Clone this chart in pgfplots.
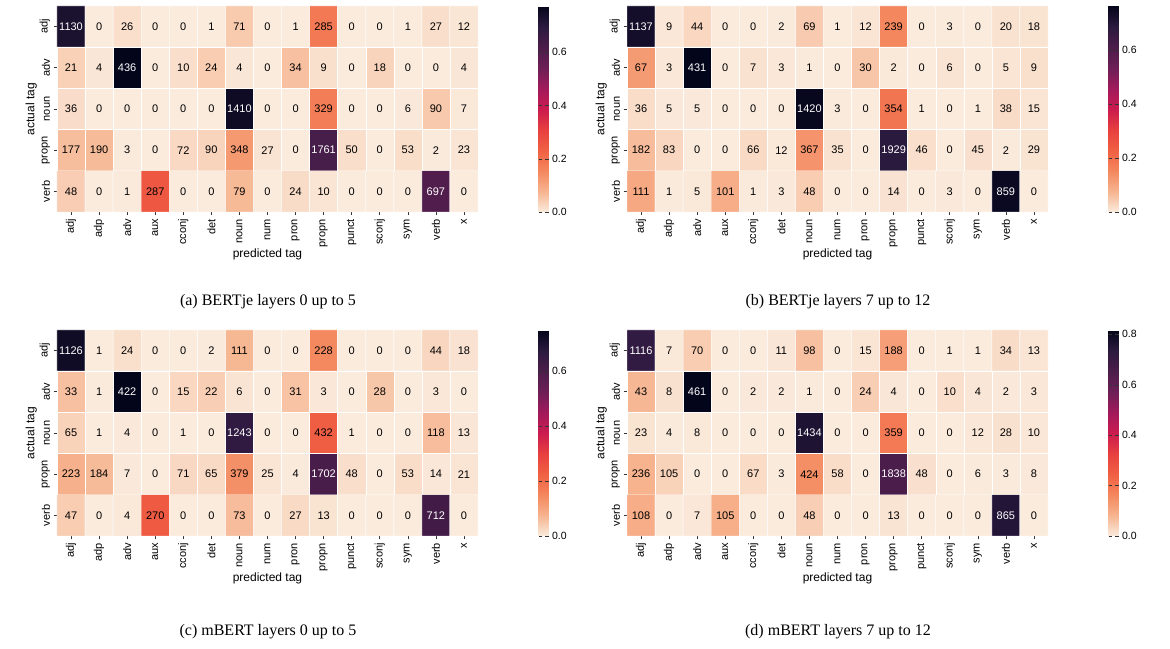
\documentclass[border=0pt]{standalone}
\usepackage{pgfplots}
\pgfplotsset{compat=1.18}
\usepackage{fontspec}
\setmainfont{Liberation Serif}
\newfontfamily\lsans{Liberation Sans}
\pgfplotsset{
  colormap={rocketr}{rgb255(0)=(250,235,221) rgb255(0.1)=(246,180,143) rgb255(0.2)=(244,135,94) rgb255(0.3)=(240,96,67) rgb255(0.4)=(232,63,63) rgb255(0.5)=(203,27,79) rgb255(0.6)=(161,26,91) rgb255(0.7)=(109,31,86) rgb255(0.8)=(76,29,75) rgb255(0.9)=(43,26,63) rgb255(1)=(3,5,26)},
}
\newcommand{\tot}{((floor(\coordindex/15)==0)*1554+(floor(\coordindex/15)==1)*564+(floor(\coordindex/15)==2)*1878+(floor(\coordindex/15)==3)*2796+(floor(\coordindex/15)==4)*1146)}
\newcommand{\heat}[4]{%
\begin{axis}[at={#1}, anchor=north west, scale only axis, width=421pt, height=206pt,
  xmin=-0.5, xmax=14.5, ymin=-0.5, ymax=4.5, y dir=reverse,
  axis line style={draw=none}, tick align=outside, major tick length=3.5pt,
  tick style={black!80, line width=0.6pt},
  xtick={0,...,14}, xticklabels={adj,adp,adv,aux,cconj,det,noun,num,pron,propn,punct,sconj,sym,verb,x},
  ytick={0,...,4}, yticklabels={adj,adv,noun,propn,verb},
  xtick pos=bottom, ytick pos=left,
  x tick label style={rotate=90, anchor=east, font=\lsans\fontsize{11}{13}\selectfont},
  y tick label style={rotate=90, anchor=south, font=\lsans\fontsize{11}{13}\selectfont},
  xlabel={predicted tag}, ylabel={actual tag},
  label style={font=\lsans\fontsize{12}{14}\selectfont},
  xlabel style={yshift=5pt}, ylabel style={yshift=-4pt},
  colormap name=rocketr, point meta min=0,
  colorbar, colorbar style={at={(parent axis.north east)}, anchor=north west, xshift=52pt, width=10pt,
    axis line style={draw=none}, ytick={0,0.2,0.4,0.6,0.8}, tick style={black!80}, major tick length=3.5pt,
    yticklabel style={font=\lsans\fontsize{10.5}{12}\selectfont, /pgf/number format/fixed, /pgf/number format/fixed zerofill, /pgf/number format/precision=1, /pgf/number format/assume math mode=true}},
  clip=false]
\addplot[matrix plot*, mesh/cols=15, mesh/rows=5, draw=white, line width=0.4pt,
  point meta={\thisrow{c}/\tot},
  visualization depends on={value \thisrow{c}\as\cnt},
  visualization depends on={\thisrow{c}/\tot\as\fr},
  nodes near coords={\ifdim\fr pt>0.4pt\color{white}\fi\cnt},
  every node near coord/.append style={font=\lsans\fontsize{11}{13}\selectfont, anchor=center, text=black}]
  table[row sep=\\, x expr={mod(\coordindex,15)}, y expr={floor(\coordindex/15)}] {#2};
\end{axis}
\node[font=\fontsize{16}{19}\selectfont] at (#3) {#4};
}
\begin{document}
\begin{tikzpicture}
\path[use as bounding box] (0pt,0pt) rectangle (1170pt,648pt);
\heat{(57pt,642pt)}{c\\
1130\\0\\26\\0\\0\\1\\71\\0\\1\\285\\0\\0\\1\\27\\12\\
21\\4\\436\\0\\10\\24\\4\\0\\34\\9\\0\\18\\0\\0\\4\\
36\\0\\0\\0\\0\\0\\1410\\0\\0\\329\\0\\0\\6\\90\\7\\
177\\190\\3\\0\\72\\90\\348\\27\\0\\1761\\50\\0\\53\\2\\23\\
48\\0\\1\\287\\0\\0\\79\\0\\24\\10\\0\\0\\0\\697\\0\\
}{268pt,346pt}{(a) BERTje layers 0 up to 5}
\heat{(627pt,642pt)}{c\\
1137\\9\\44\\0\\0\\2\\69\\1\\12\\239\\0\\3\\0\\20\\18\\
67\\3\\431\\0\\7\\3\\1\\0\\30\\2\\0\\6\\0\\5\\9\\
36\\5\\5\\0\\0\\0\\1420\\3\\0\\354\\1\\0\\1\\38\\15\\
182\\83\\0\\0\\66\\12\\367\\35\\0\\1929\\46\\0\\45\\2\\29\\
111\\1\\5\\101\\1\\3\\48\\0\\0\\14\\0\\3\\0\\859\\0\\
}{838pt,346pt}{(b) BERTje layers 7 up to 12}
\heat{(57pt,318pt)}{c\\
1126\\1\\24\\0\\0\\2\\111\\0\\0\\228\\0\\0\\0\\44\\18\\
33\\1\\422\\0\\15\\22\\6\\0\\31\\3\\0\\28\\0\\3\\0\\
65\\1\\4\\0\\1\\0\\1243\\0\\0\\432\\1\\0\\0\\118\\13\\
223\\184\\7\\0\\71\\65\\379\\25\\4\\1702\\48\\0\\53\\14\\21\\
47\\0\\4\\270\\0\\0\\73\\0\\27\\13\\0\\0\\0\\712\\0\\
}{268pt,16pt}{(c) mBERT layers 0 up to 5}
\heat{(627pt,318pt)}{c\\
1116\\7\\70\\0\\0\\11\\98\\0\\15\\188\\0\\1\\1\\34\\13\\
43\\8\\461\\0\\2\\2\\1\\0\\24\\4\\0\\10\\4\\2\\3\\
23\\4\\8\\0\\0\\0\\1434\\0\\0\\359\\0\\0\\12\\28\\10\\
236\\105\\0\\0\\67\\3\\424\\58\\0\\1838\\48\\0\\6\\3\\8\\
108\\0\\7\\105\\0\\0\\48\\0\\0\\13\\0\\0\\0\\865\\0\\
}{838pt,16pt}{(d) mBERT layers 7 up to 12}
\end{tikzpicture}
\end{document}
